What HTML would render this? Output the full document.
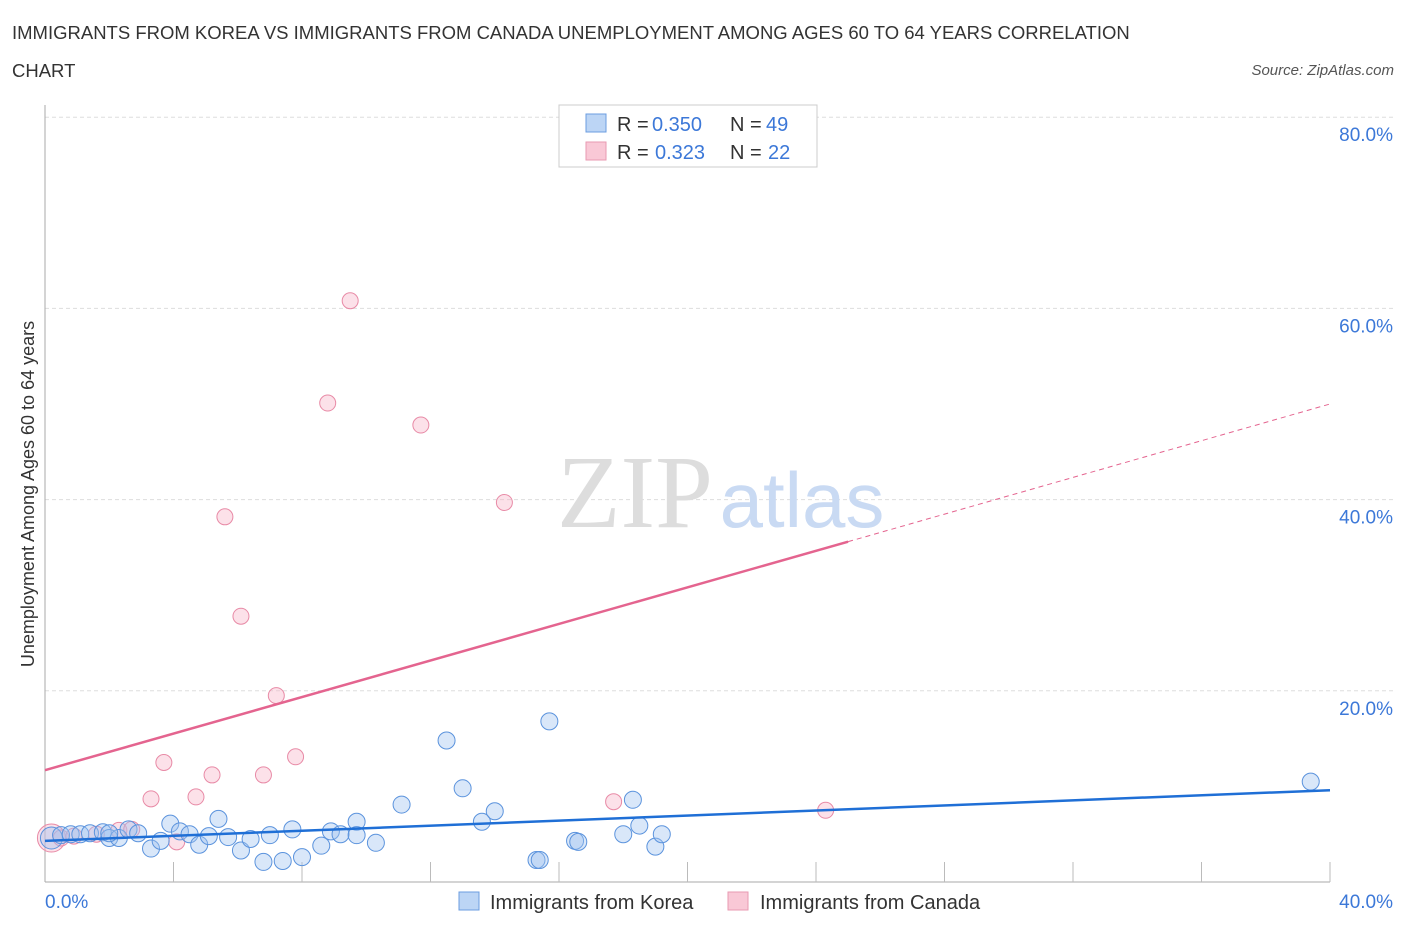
<!DOCTYPE html>
<html><head><meta charset="utf-8">
<style>
body{margin:0;background:#fff;font-family:"Liberation Sans",sans-serif;}
#wrap{position:relative;width:1406px;height:930px;overflow:hidden;}
.t{position:absolute;color:#333;}
</style></head>
<body>
<div id="wrap">
<div class="t" style="left:12px;top:14px;font-size:18.5px;line-height:38px;width:1150px;">IMMIGRANTS FROM KOREA VS IMMIGRANTS FROM CANADA UNEMPLOYMENT AMONG AGES 60 TO 64 YEARS CORRELATION CHART</div>
<div class="t" style="right:12px;top:62px;font-size:15px;font-style:italic;color:#555;">Source: ZipAtlas.com</div>
<svg id="svg" width="1406" height="930" style="position:absolute;left:0;top:0"></svg>
</div>
<script>
const xTicks=[0,40];
const yTicks=[20,40,60,80];
const koreaX=[0.2,0.5,0.8,1.1,1.4,1.8,2.0,2.3,2.6,2.9,3.3,3.6,3.9,4.2,4.5,4.8,5.1,5.4,5.7,6.1,6.4,6.8,7.0,7.4,7.7,8.0,8.6,8.9,9.2,9.7,9.7,10.3,11.1,12.5,13.0,13.6,14.0,15.3,15.4,15.7,16.5,16.6,18.0,18.3,18.5,19.0,19.2,39.4,2.0];
const koreaY=[4.6,4.9,5.0,5.0,5.1,5.2,4.6,4.6,5.5,5.1,3.5,4.3,6.1,5.3,5.0,3.9,4.8,6.6,4.7,3.3,4.5,2.1,4.9,2.2,5.5,2.6,3.8,5.3,5.0,6.3,4.9,4.1,8.1,14.8,9.8,6.3,7.4,2.3,2.3,16.8,4.3,4.2,5.0,8.6,5.9,3.7,5.0,10.5,5.1];
const canadaX=[0.2,0.5,0.9,1.6,2.3,2.7,3.3,3.7,4.1,4.7,5.2,5.6,6.1,6.8,7.2,7.8,8.8,9.5,11.7,14.3,17.7,24.3];
const canadaY=[4.6,4.6,4.8,5.0,5.4,5.5,8.7,12.5,4.2,8.9,11.2,38.2,27.8,11.2,19.5,13.1,50.1,60.8,47.8,39.7,8.4,7.5];
const koreaTrend=[[0,4.3],[40,9.6]];
const canadaTrend=[[0,11.7],[25,35.6],[40,50]];
const X=v=>45+v/40*1285, Y=v=>882-v/20*191.2;
const svg=document.getElementById('svg');const NS='http://www.w3.org/2000/svg';
function el(t,a){const e=document.createElementNS(NS,t);for(const k in a)e.setAttribute(k,a[k]);svg.appendChild(e);return e;}
yTicks.forEach(v=>{const g=el('line',{x1:45,x2:1395,y1:Y(v),y2:Y(v),stroke:'#ddd','stroke-dasharray':'4,3'});


const t=el('text',{x:1393,y:Y(v)+24,'text-anchor':'end','font-size':19,fill:'#3c78d8','font-family':'Liberation Sans'});t.textContent=v.toFixed(1)+'%';

});
el('line',{x1:45,x2:45,y1:105,y2:882,stroke:'#aaa'});
el('line',{x1:45,x2:1330,y1:882,y2:882,stroke:'#aaa'});
for(let i=1;i<=10;i++){el('line',{x1:45+i*128.5,x2:45+i*128.5,y1:862,y2:882,stroke:'#bbb'});}
xTicks.forEach((v,i)=>{const t=el('text',{x:i?1393:45,y:908,'text-anchor':i?'end':'start','font-size':19,fill:'#3c78d8','font-family':'Liberation Sans'});t.textContent=v.toFixed(1)+'%';

});
const yl=el('text',{x:0,y:0,transform:'translate(34,494) rotate(-90)','text-anchor':'middle','font-size':18,fill:'#333','font-family':'Liberation Sans'});yl.textContent='Unemployment Among Ages 60 to 64 years';


const wm1=el('text',{x:635,y:527,'text-anchor':'middle','font-size':104,fill:'#ddd','font-family':'Liberation Serif'});wm1.textContent='ZIP';
const wm2=el('text',{x:802,y:527,'text-anchor':'middle','font-size':78,fill:'#c9daf3','font-family':'Liberation Sans'});wm2.textContent='atlas';
canadaX.forEach((v,i)=>{const c=el('circle',{cx:X(v),cy:Y(canadaY[i]),r:i==0?14:8,fill:'rgba(248,180,200,0.4)',stroke:'#e88aa6','stroke-width':1});

});
koreaX.forEach((v,i)=>{const c=el('circle',{cx:X(v),cy:Y(koreaY[i]),r:i==0?11:8.5,fill:'rgba(160,196,240,0.4)',stroke:'#5b93dd','stroke-width':1});

});
const kt=el('line',{x1:X(koreaTrend[0][0]),y1:Y(koreaTrend[0][1]),x2:X(koreaTrend[1][0]),y2:Y(koreaTrend[1][1]),stroke:'#1f6fd6','stroke-width':2.5});


const ct=el('line',{x1:X(canadaTrend[0][0]),y1:Y(canadaTrend[0][1]),x2:X(canadaTrend[1][0]),y2:Y(canadaTrend[1][1]),stroke:'#e4648f','stroke-width':2.5});


const cd=el('line',{x1:X(canadaTrend[1][0]),y1:Y(canadaTrend[1][1]),x2:X(canadaTrend[2][0]),y2:Y(canadaTrend[2][1]),stroke:'#e4648f','stroke-width':1,'stroke-dasharray':'5,4'});


el('rect',{x:559,y:105,width:258,height:62,fill:'#fff',stroke:'#ccc'});
el('rect',{x:586,y:114,width:20,height:18,fill:'#bcd5f5',stroke:'#6b9de0'});
el('rect',{x:586,y:142,width:20,height:18,fill:'#f9c8d6',stroke:'#e89ab2'});
function tx(x,y,s,c,n){const t=el('text',{x:x,y:y,'font-size':20,fill:c,'font-family':'Liberation Sans'});t.textContent=s;}
tx(617,131,'R =','#333','legend-r-label');tx(652,131,'0.350','#3c78d8','legend-r-korea');tx(730,131,'N =','#333','legend-n-label');tx(766,131,'49','#3c78d8','legend-n-korea');
tx(617,159,'R =','#333','legend-r-label');tx(655,159,'0.323','#3c78d8','legend-r-canada');tx(730,159,'N =','#333','legend-n-label');tx(768,159,'22','#3c78d8','legend-n-canada');
el('rect',{x:459,y:892,width:20,height:18,fill:'#bcd5f5',stroke:'#6b9de0'});
el('rect',{x:728,y:892,width:20,height:18,fill:'#f9c8d6',stroke:'#e89ab2'});
tx(490,909,'Immigrants from Korea','#333','legend-korea');tx(760,909,'Immigrants from Canada','#333','legend-canada');
</script>
</body></html>
